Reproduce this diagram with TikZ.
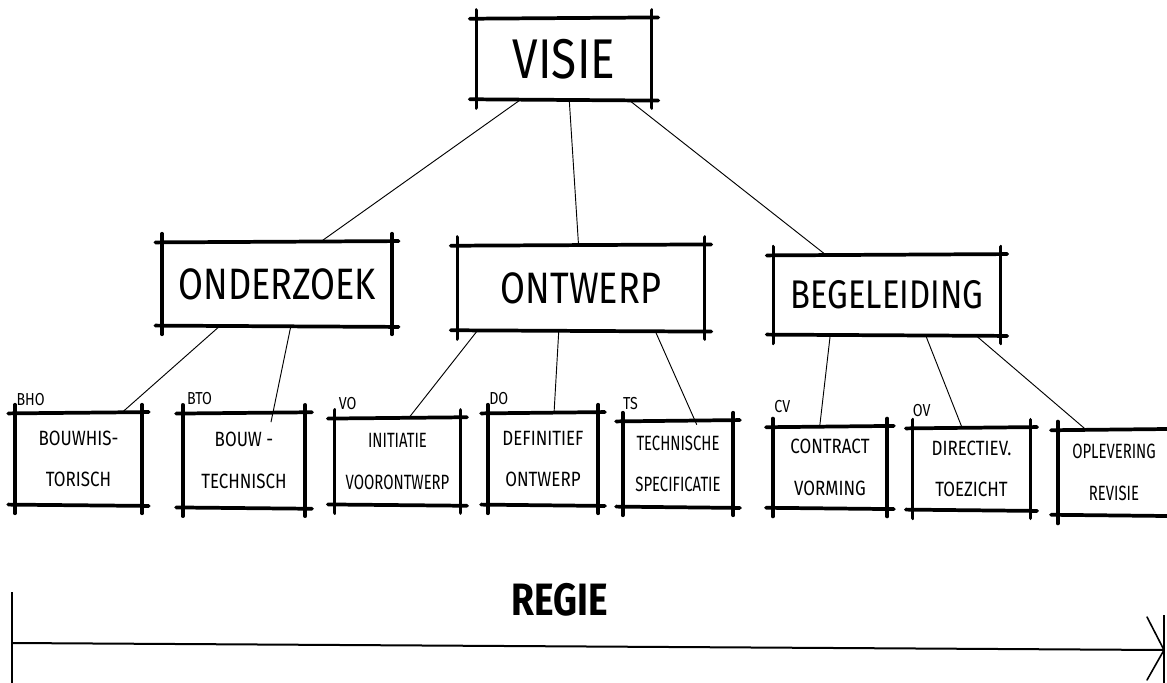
\documentclass[tikz,border=0pt]{standalone}
\usepackage{fontspec}
\setmainfont{Fira Sans}
\newfontfamily\hand[FakeStretch=0.82]{Fira Sans}
\newfontfamily\handn[FakeStretch=0.72]{Fira Sans}
\usetikzlibrary{calc}
\tikzset{
  px/.style={x=0.75pt,y=-0.75pt},
  sk/.style={draw=none,align=center,inner sep=0pt,text=black},
  big/.style={sk,font=\hand\fontsize{#1}{34}\selectfont},
  small/.style={sk,font=\hand\fontsize{15.5}{31}\selectfont},
  smalln/.style={sk,font=\handn\fontsize{15.5}{31}\selectfont},
  tag/.style={inner sep=0pt,font=\hand\fontsize{13}{14}\selectfont,anchor=south west},
  boxline/.style={line width=2.8pt,line cap=round,black},
  link/.style={line width=0.7pt,black},
}
\begin{document}
\begin{tikzpicture}[px]
\useasboundingbox (0,0) rectangle (1167,682);
% top
\node[sk,font=\hand\fontsize{42}{44}\selectfont,minimum width=131pt,minimum height=61pt] (visie) at (564,59) {VISIE};
% middle
\node[big=33,minimum width=172pt,minimum height=63pt] (onderzoek) at (277,284) {ONDERZOEK};
\node[big=33,minimum width=185pt,minimum height=64pt] (ontwerp) at (581,288) {ONTWERP};
\node[big=30,minimum width=170pt,minimum height=60pt] (begeleiding) at (887,295) {BEGELEIDING};
% bottom
\node[small,minimum width=95pt,minimum height=69pt] (bho) at (78.5,459) {BOUWHIS-\\TORISCH};
\node[small,minimum width=91.5pt,minimum height=71pt] (bto) at (244,460.5) {BOUW -\\TECHNISCH};
\node[smalln,minimum width=94pt,minimum height=65pt] (vo) at (397.5,461.5) {INITIATIE\\VOORONTWERP};
\node[small,minimum width=82.5pt,minimum height=69pt] (do) at (543,459) {DEFINITIEF\\ONTWERP};
\node[smalln,minimum width=82.5pt,minimum height=64.5pt] (ts) at (678,464) {TECHNISCHE\\SPECIFICATIE};
\node[small,minimum width=85.5pt,minimum height=61pt] (cv) at (830,467.5) {CONTRACT\\VORMING};
\node[small,minimum width=88pt,minimum height=61.5pt] (ov) at (971.5,469) {DIRECTIEV.\\TOEZICHT};
\node[smalln,minimum width=84pt,minimum height=64pt] (opl) at (1114,472.5) {OPLEVERING\\REVISIE};
% tags
\node[tag] (tbho) at ([shift={(1pt,5pt)}]bho.north west) {BHO};
\node[tag] (tbto) at ([shift={(3pt,6pt)}]bto.north west) {BTO};
\node[tag] (tvo) at ([shift={(3pt,6pt)}]vo.north west) {VO};
\node[tag] (tdo) at ([shift={(1pt,6pt)}]do.north west) {DO};
\node[tag] (tts) at ([shift={(0pt,8pt)}]ts.north west) {TS};
\node[tag] (tcv) at ([shift={(1pt,10pt)}]cv.north west) {CV};
\node[tag] (tov) at ([shift={(0pt,8pt)}]ov.north west) {OV};
% sketchy boxes
\foreach \n in {visie,onderzoek,ontwerp,begeleiding,bho,bto,vo,do,ts,cv,ov,opl}{
  \draw[boxline] ([xshift=-5pt,yshift=-0.5pt]\n.north west) -- ([xshift=5pt,yshift=0.5pt]\n.north east);
  \draw[boxline] ([xshift=-5pt,yshift=0.5pt]\n.south west) -- ([xshift=5pt,yshift=-0.5pt]\n.south east);
  \draw[boxline] ([yshift=6pt]\n.north west) -- ([yshift=-6pt]\n.south west);
  \draw[boxline] ([yshift=6pt]\n.north east) -- ([yshift=-6pt]\n.south east);
}
% connectors
\draw[link] ($(visie.south west)!0.25!(visie.south east)$) -- ($(onderzoek.north west)!0.69!(onderzoek.north east)$);
\draw[link] ($(visie.south west)!0.53!(visie.south east)$) -- ($(ontwerp.north west)!0.49!(ontwerp.north east)$);
\draw[link] ($(visie.south west)!0.87!(visie.south east)$) -- ($(begeleiding.north west)!0.23!(begeleiding.north east)$);
\draw[link] ($(onderzoek.south west)!0.25!(onderzoek.south east)$) -- ($(bho.north west)!0.84!(bho.north east)$);
\draw[link] ($(onderzoek.south west)!0.56!(onderzoek.south east)$) -- ([yshift=-7pt]$(bto.north west)!0.72!(bto.north east)$);
\draw[link] ($(ontwerp.south west)!0.08!(ontwerp.south east)$) -- ($(vo.north west)!0.59!(vo.north east)$);
\draw[link] ($(ontwerp.south west)!0.41!(ontwerp.south east)$) -- ($(do.north west)!0.6!(do.north east)$);
\draw[link] ($(ontwerp.south west)!0.8!(ontwerp.south east)$) -- ([yshift=-3pt]$(ts.north west)!0.67!(ts.north east)$);
\draw[link] ($(begeleiding.south west)!0.25!(begeleiding.south east)$) -- ($(cv.north west)!0.41!(cv.north east)$);
\draw[link] ($(begeleiding.south west)!0.67!(begeleiding.south east)$) -- ($(ov.north west)!0.42!(ov.north east)$);
\draw[link] ($(begeleiding.south west)!0.89!(begeleiding.south east)$) -- ($(opl.north west)!0.25!(opl.north east)$);
% regie
\node[inner sep=0pt,font=\hand\bfseries\fontsize{34}{36}\selectfont] (regie) at (560,600) {REGIE};
\coordinate (ra) at (12,643);
\coordinate (rb) at (1164,650);
\coordinate (lt) at (12,592);
\coordinate (lb) at (12,688);
\coordinate (rt) at (1164,615);
\coordinate (rbot) at (1164,688);
\coordinate (h1) at (1147,617);
\coordinate (h2) at (1147,680);
\draw[line width=1.5pt] (ra) -- (rb);
\draw[line width=1pt] (lt) -- (lb);
\draw[line width=1pt] (rt) -- (rbot);
\draw[line width=1.2pt,line cap=round,line join=round] (h1) -- (rb) -- (h2);
\end{tikzpicture}
\end{document}
